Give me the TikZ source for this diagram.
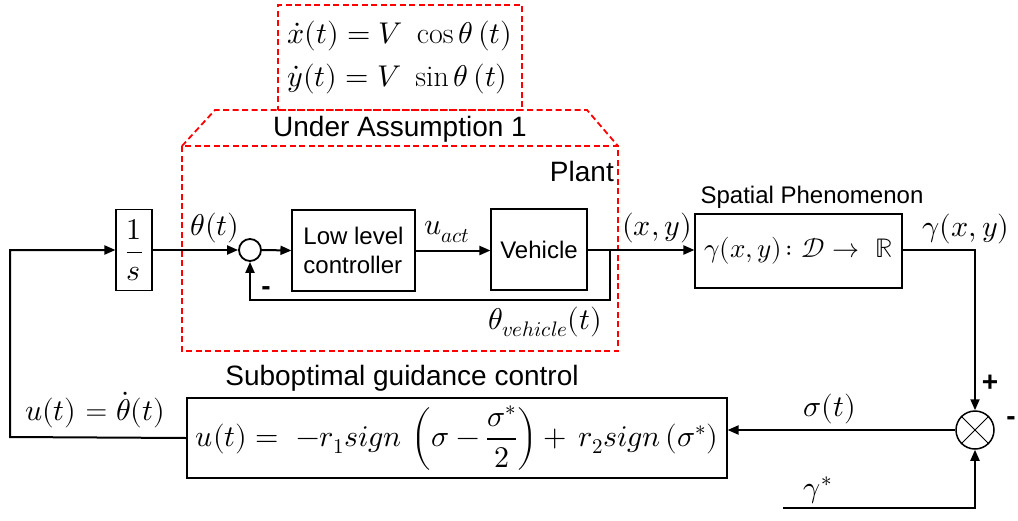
\documentclass[tikz,border=0pt]{standalone}
\usepackage{fontspec}
\usepackage{unicode-math}
\setsansfont{Liberation Sans}
\usetikzlibrary{arrows.meta}
\newcommand\fsbig{\fontsize{28}{32}\selectfont}
\newcommand\fsmid{\fontsize{24}{29}\selectfont}
\newcommand\fsmath{\fontsize{30}{40}\selectfont}
\newcommand\fssp{\fontsize{27}{36}\selectfont}
\begin{document}
\begin{tikzpicture}[x=1pt,y=-1pt,
  blk/.style={draw, line width=1.1pt, inner sep=0pt},
  conn/.style={line width=2pt},
  arr/.style={line width=2pt, -{Triangle[length=11pt,width=9pt]}},
  redd/.style={draw=red, line width=1.8pt, dash pattern=on 6pt off 3.5pt},
  txt/.style={font=\sffamily\fsmid, inner sep=0pt},
  txtb/.style={font=\sffamily\fsbig, inner sep=0pt},
  lbl/.style={font=\fsmath, inner sep=0pt},
  sgn/.style={font=\sffamily\bfseries\fsbig, inner sep=0pt}]
\useasboundingbox (0,0) rectangle (1018,520);

% top equation box
\node[redd, minimum width=244pt, minimum height=105pt, align=left, font=\fsmath, inner sep=0pt] (eq) at (400,57.5)
  {$\dot{x}(t) = V\ \cos\theta\,(t)$\\[3pt] $\dot{y}(t) = V\ \sin\theta\,(t)$};

% plant region
\draw[redd] (182,146) -- (215,110) -- (587,110) -- (618,146);
\draw[redd] (182,146) rectangle (618,351);
\node[txtb] (ua) at (400,129) {Under Assumption 1};
\node[txtb, anchor=east] (plant) at (614,171) {Plant};

% blocks
\node[blk, minimum width=36pt, minimum height=81pt] (ints) at (134,250) {\fsmath$\displaystyle\frac{1}{s}$};
\node[draw, circle, line width=1.8pt, minimum size=22pt, inner sep=0pt] (sum) at (250,250) {};
\node[blk, minimum width=123pt, minimum height=81pt, align=left, font=\sffamily\fsmid] (llc) at (353.5,250.5) {Low level\\controller};
\node[blk, minimum width=96pt, minimum height=81pt, font=\sffamily\fsmid] (veh) at (539,249.5) {Vehicle};
\node[blk, minimum width=207pt, minimum height=74pt, font=\fssp] (sp) at (798.5,251) {$\gamma(x,y)\colon \mathcal{D} \rightarrow\ \mathbb{R}$};
\node[blk, minimum width=540pt, minimum height=80pt, font=\fsmath] (ctrl) at (457,438)
  {$u(t) =\ -r_1 sign\,\left(\sigma - \dfrac{\sigma^{*}}{2}\right) + \,r_2 sign\,(\sigma^{*})$};
\node[draw, circle, line width=1.5pt, minimum size=38pt, inner sep=0pt] (err) at (975,430) {};
\draw[line width=1pt] (err.45) -- (err.225) (err.135) -- (err.315);

% coordinates
\coordinate (lc) at (10,437);
\coordinate (br) at (610,250);
\coordinate (fb) at (610,300);
\coordinate (gc) at (975,250);
\coordinate (gs) at (783,508);

% connectors
\draw[arr] (ctrl.west) -- (lc) |- (ints.west);
\draw[arr] (ints.east) -- (sum.west);
\draw[arr] (sum.east) -- (llc.west);
\draw[arr] (llc.east) -- (llc.east -| veh.west);
\draw[arr] (veh.east |- br) -- (br) -- (br -| sp.west);
\draw[arr] (br) -- (fb) -| (sum.south);
\draw[arr] (sp.east |- gc) -- (gc) -- (err.north);
\draw[arr] (err.west) -- (err.west -| ctrl.east);
\draw[arr] (gs) -| (err.south);

% labels
\node[lbl] (lth) at (215,228) {$\theta(t)$};
\node[lbl] (luact) at (447,232) {$u_{act}$};
\node[sgn] (lm1) at (266,291) {-};
\node[lbl] (lthv) at (545,322) {$\theta_{vehicle}(t)$};
\node[lbl] (lxy) at (657,228) {$(x,y)$};
\node[txt] (lsp) at (812,197) {Spatial Phenomenon};
\node[lbl] (lgxy) at (966,229) {$\gamma(x,y)$};
\node[sgn] (lplus) at (990,383) {+};
\node[sgn] (lm2) at (1011,421) {-};
\node[lbl] (lsig) at (830,409) {$\sigma(t)$};
\node[lbl] (lgs) at (818,490) {$\gamma^{*}$};
\node[lbl] (lu) at (95,410) {$u(t)$ = $\dot{\theta}(t)$};
\node[txtb] (lsub) at (402,378) {Suboptimal guidance control};
\end{tikzpicture}
\end{document}
